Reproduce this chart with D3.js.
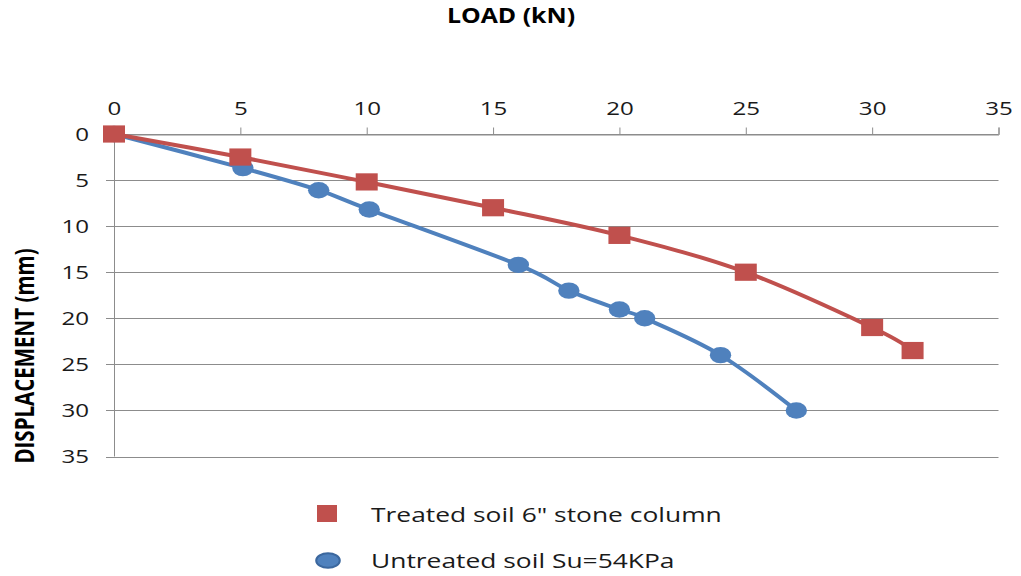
<!DOCTYPE html>
<html>
<head>
<meta charset="utf-8">
<script src="https://cdn.jsdelivr.net/npm/d3@7"></script>
<style>
  html, body { margin: 0; padding: 0; background: #fff; }
  svg { display: block; font-family: "Open Sans", "DejaVu Sans", sans-serif; }
</style>
</head>
<body>
<svg id="chart" width="1021" height="576"></svg>
<script>
// Load–displacement data for the plate load tests
const loadTicks = [0, 5, 10, 15, 20, 25, 30, 35];
const dispTicks = [0, 5, 10, 15, 20, 25, 30, 35];

const treatedLoad = [0, 5, 10, 15, 20, 25, 30, 31.6];
const treatedDisp = [0, 2.5, 5.2, 8, 11, 15, 21, 23.5];

const untreatedLoad = [0, 5.1, 8.1, 10.1, 16, 18, 20, 21, 24, 27];
const untreatedDisp = [0, 3.7, 6.1, 8.2, 14.2, 17, 19.05, 20, 24, 30];

const seriesNames = ["Treated soil 6\" stone column", "Untreated soil Su=54KPa"];
const seriesColors = ["#C0504D", "#4F81BD"];

// Text in this chart is set wide; glyphs are widened horizontally
const STRETCH = 1.27;

const svg = d3.select("#chart");

const x = d3.scaleLinear().domain([0, 35]).range([114, 998.5]);
const y = d3.scaleLinear().domain([0, 35]).range([134, 456.5]);

// horizontal gridlines (extend a little left of the vertical axis)
svg.append("g")
  .selectAll("line")
  .data(dispTicks)
  .join("line")
  .attr("x1", x(0) - 8)
  .attr("x2", x(35))
  .attr("y1", d => Math.round(y(d)) + 0.5)
  .attr("y2", d => Math.round(y(d)) + 0.5)
  .attr("stroke", "#8c8c8c")
  .attr("stroke-width", 1);

// vertical axis line
svg.append("line")
  .attr("x1", Math.round(x(0)) + 0.5)
  .attr("x2", Math.round(x(0)) + 0.5)
  .attr("y1", y(0))
  .attr("y2", y(35))
  .attr("stroke", "#8c8c8c");

// top (load) axis
const xAxis = svg.append("g")
  .attr("transform", `translate(0,${Math.round(y(0)) + 0.5})`)
  .call(d3.axisTop(x).tickValues(loadTicks).tickSize(7).tickPadding(13).tickFormat(d3.format("d")));
xAxis.select(".domain").attr("stroke", "#8c8c8c");
xAxis.selectAll(".tick line").attr("stroke", "#8c8c8c");
xAxis.selectAll(".tick text")
  .attr("font-size", 19)
  .attr("font-family", "Open Sans")
  .attr("fill", "#1a1a1a")
  .attr("transform", `scale(${STRETCH},1)`);

// left (displacement) tick labels
const yLabels = svg.append("g")
  .attr("transform", `translate(${x(0)},0)`)
  .call(d3.axisLeft(y).tickValues(dispTicks).tickSize(0).tickPadding(0).tickFormat(d3.format("d")));
yLabels.select(".domain").remove();
yLabels.selectAll(".tick text")
  .attr("font-size", 19)
  .attr("font-family", "Open Sans")
  .attr("fill", "#1a1a1a")
  .attr("x", -25 / STRETCH)
  .attr("dy", "0.34em")
  .attr("transform", `scale(${STRETCH},1)`);

// axis titles
svg.append("text")
  .attr("transform", `translate(511,22.5) scale(1.155,1)`)
  .attr("text-anchor", "middle")
  .attr("font-weight", "bold")
  .attr("font-size", 21.5)
  .attr("fill", "#000")
  .text("LOAD (kN)");

svg.append("text")
  .attr("transform", `translate(34,356) scale(1.32,1) rotate(-90)`)
  .attr("text-anchor", "middle")
  .attr("font-weight", "bold")
  .attr("font-size", 20.5)
  .attr("fill", "#000")
  .text("DISPLACEMENT (mm)");

// smoothed series lines
const line = d3.line()
  .x(d => x(d[0]))
  .y(d => y(d[1]))
  .curve(d3.curveCardinal.tension(0));

const treated = d3.zip(treatedLoad, treatedDisp);
const untreated = d3.zip(untreatedLoad, untreatedDisp);

// untreated series (drawn first, sits beneath)
svg.append("path")
  .datum(untreated)
  .attr("d", line)
  .attr("fill", "none")
  .attr("stroke", seriesColors[1])
  .attr("stroke-width", 4);
svg.append("g")
  .selectAll("ellipse")
  .data(untreated)
  .join("ellipse")
  .attr("cx", d => x(d[0]))
  .attr("cy", d => y(d[1]))
  .attr("rx", 10.7)
  .attr("ry", 8.2)
  .attr("fill", seriesColors[1]);

// treated series
svg.append("path")
  .datum(treated)
  .attr("d", line)
  .attr("fill", "none")
  .attr("stroke", seriesColors[0])
  .attr("stroke-width", 4);
svg.append("g")
  .selectAll("rect")
  .data(treated)
  .join("rect")
  .attr("x", d => x(d[0]) - 11)
  .attr("y", d => y(d[1]) - 8.6)
  .attr("width", 22)
  .attr("height", 17.2)
  .attr("fill", seriesColors[0]);

// legend
const legend = svg.append("g");
legend.append("rect")
  .attr("x", 317).attr("y", 505)
  .attr("width", 20).attr("height", 17)
  .attr("fill", seriesColors[0]);
legend.append("ellipse")
  .attr("cx", 328).attr("cy", 560.5)
  .attr("rx", 11.8).attr("ry", 7.3)
  .attr("fill", seriesColors[1])
  .attr("stroke", "#3b679e")
  .attr("stroke-width", 2);

legend.selectAll("text.lbl")
  .data(seriesNames)
  .join("text")
  .attr("class", "lbl")
  .attr("transform", (d, i) => `translate(371,${i === 0 ? 521.5 : 567.5}) scale(1.32,1)`)
  .attr("font-size", 20)
  .attr("fill", "#1a1a1a")
  .text(d => d);
</script>
</body>
</html>
